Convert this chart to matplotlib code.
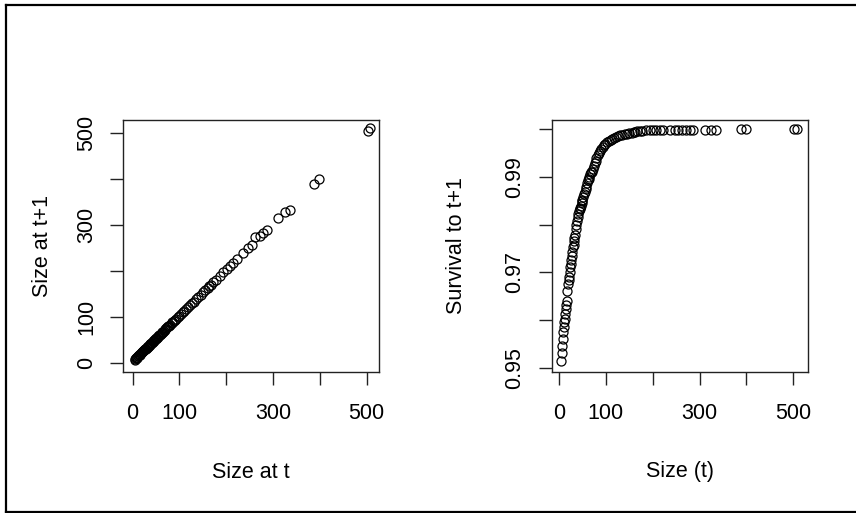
import matplotlib
matplotlib.use("Agg")
import matplotlib.pyplot as plt
from matplotlib.lines import Line2D

plt.rcParams['font.family'] = ['Liberation Sans', 'DejaVu Sans']

# размер растения в год t
size_t = [5, 6, 7, 8, 9, 10, 11, 12, 13, 14,
          15, 16, 18, 20, 21, 22, 23, 24, 25, 26,
          27, 28, 30, 31, 32, 33, 34, 36, 37, 38,
          40, 41, 43, 44, 45, 46, 48, 49, 50, 52,
          54, 55, 57, 58, 60, 62, 63, 65, 67, 69,
          70, 72, 74, 76, 78, 80, 83, 85, 88, 90,
          93, 96, 99, 103, 107, 110, 114, 118, 122, 126,
          130, 135, 140, 145, 150, 155, 160, 163, 167, 172,
          178, 186, 194, 201, 208, 215, 222, 236, 247, 254,
          262, 272, 279, 286, 311, 325, 336, 388, 398, 502,
          508]

# размер в год t+1
size_next = [8, 9, 11, 12, 12, 14, 15, 16, 17, 18,
             19, 20, 22, 24, 25, 26, 27, 28, 29, 30,
             31, 32, 34, 35, 36, 37, 38, 40, 41, 42,
             44, 45, 47, 48, 49, 50, 52, 53, 54, 56,
             58, 59, 61, 62, 64, 66, 67, 69, 71, 73,
             74, 76, 78, 80, 82, 84, 87, 89, 92, 94,
             97, 100, 103, 107, 111, 114, 118, 122, 126, 130,
             134, 139, 144, 149, 154, 159, 164, 167, 171, 176,
             182, 190, 198, 205, 212, 219, 226, 240, 251, 258,
             275, 276, 283, 290, 315, 329, 333, 390, 400, 505,
             511]

# выживаемость до t+1
survival = [0.9515, 0.9530, 0.9545, 0.9560, 0.9575, 0.9585, 0.9595, 0.9602, 0.9612, 0.9622,
            0.9632, 0.9640, 0.9660, 0.9676, 0.9683, 0.9690, 0.9700, 0.9710, 0.9718, 0.9726,
            0.9735, 0.9742, 0.9752, 0.9758, 0.9765, 0.9772, 0.9778, 0.9790, 0.9800, 0.9808,
            0.9816, 0.9821, 0.9828, 0.9832, 0.9835, 0.9839, 0.9846, 0.9850, 0.9852, 0.9857,
            0.9864, 0.9868, 0.9875, 0.9879, 0.9887, 0.9893, 0.9896, 0.9900, 0.9905, 0.9909,
            0.9911, 0.9917, 0.9922, 0.9928, 0.9934, 0.9940, 0.9946, 0.9950, 0.9955, 0.9959,
            0.9963, 0.9966, 0.9969, 0.9972, 0.9975, 0.9977, 0.9979, 0.9981, 0.9983, 0.9985,
            0.9987, 0.9988, 0.9989, 0.9990, 0.9991, 0.9992, 0.9993, 0.9994, 0.9995, 0.9995,
            0.9996, 0.9997, 0.9998, 0.9999, 0.9999, 0.9999, 0.9999, 0.9999, 0.9999, 0.9999,
            0.9999, 0.9999, 0.9999, 0.9999, 0.9999, 0.9999, 0.9999, 1.0000, 1.0000, 1.0000,
            1.0000]

size_ticks = [0, 100, 200, 300, 400, 500]
size_labels = ["0", "100", "", "300", "", "500"]
surv_ticks = [0.95, 0.96, 0.97, 0.98, 0.99, 1.00]
surv_labels = ["0.95", "", "0.97", "", "0.99", ""]

W, H = 856, 513
FS = 15.5
fig = plt.figure(figsize=(W / 100, H / 100), dpi=100)


def px_box(x0, y0, x1, y1):
    # пиксели (сверху вниз) -> доли фигуры
    return [x0 / W, 1 - y1 / H, (x1 - x0) / W, (y1 - y0) / H]


def style_axes(ax):
    for s in ax.spines.values():
        s.set_linewidth(1.0)
        s.set_color("#222222")
    ax.tick_params(direction="out", length=9.5, width=1.0, color="#222222",
                   labelsize=FS)
    ax.tick_params(axis="x", pad=12.5)
    ax.tick_params(axis="y", pad=9.5)


ax1 = fig.add_axes(px_box(123.3, 120, 379.3, 372.3))
ax1.plot(size_t, size_next, "o", mfc="none", mec="black", ms=6.5, mew=0.9)
ax1.set_xlim(-20, 527)
ax1.set_ylim(-19.6, 529)
ax1.set_xticks(size_ticks)
ax1.set_xticklabels(size_labels)
ax1.set_yticks(size_ticks)
ax1.set_yticklabels(size_labels)
style_axes(ax1)

ax2 = fig.add_axes(px_box(551.7, 120, 807.7, 372.3))
ax2.plot(size_t, survival, "o", mfc="none", mec="black", ms=6.5, mew=0.9)
ax2.set_xlim(-15.6, 530.7)
ax2.set_ylim(0.94904, 1.00189)
ax2.set_xticks(size_ticks)
ax2.set_xticklabels(size_labels)
ax2.set_yticks(surv_ticks)
ax2.set_yticklabels(surv_labels)
style_axes(ax2)

for ax in (ax1, ax2):
    for lab in ax.get_yticklabels():
        lab.set_rotation(90)
        lab.set_va("center")

# подписи осей
fig.text(251.3 / W, 1 - 472 / H, "Size at t", ha="center", va="center", fontsize=FS)
fig.text(679.7 / W, 1 - 472 / H, "Size (t)", ha="center", va="center", fontsize=FS)
fig.text(42 / W, 1 - 246 / H, "Size at t+1", ha="center", va="center",
         rotation=90, fontsize=FS)
fig.text(457 / W, 1 - 246 / H, "Survival to t+1", ha="center", va="center",
         rotation=90, fontsize=FS)

# рамка скриншота
frame_kw = dict(transform=fig.transFigure, color="black", linewidth=1.6)
fig.add_artist(Line2D([6 / W, 1], [1 - 5 / H, 1 - 5 / H], **frame_kw))
fig.add_artist(Line2D([6 / W, 6 / W], [1 - 5 / H, 1 - 511.5 / H], **frame_kw))
fig.add_artist(Line2D([6 / W, 1], [1 - 511.5 / H, 1 - 511.5 / H], **frame_kw))

fig.savefig("out.png", dpi=100)
